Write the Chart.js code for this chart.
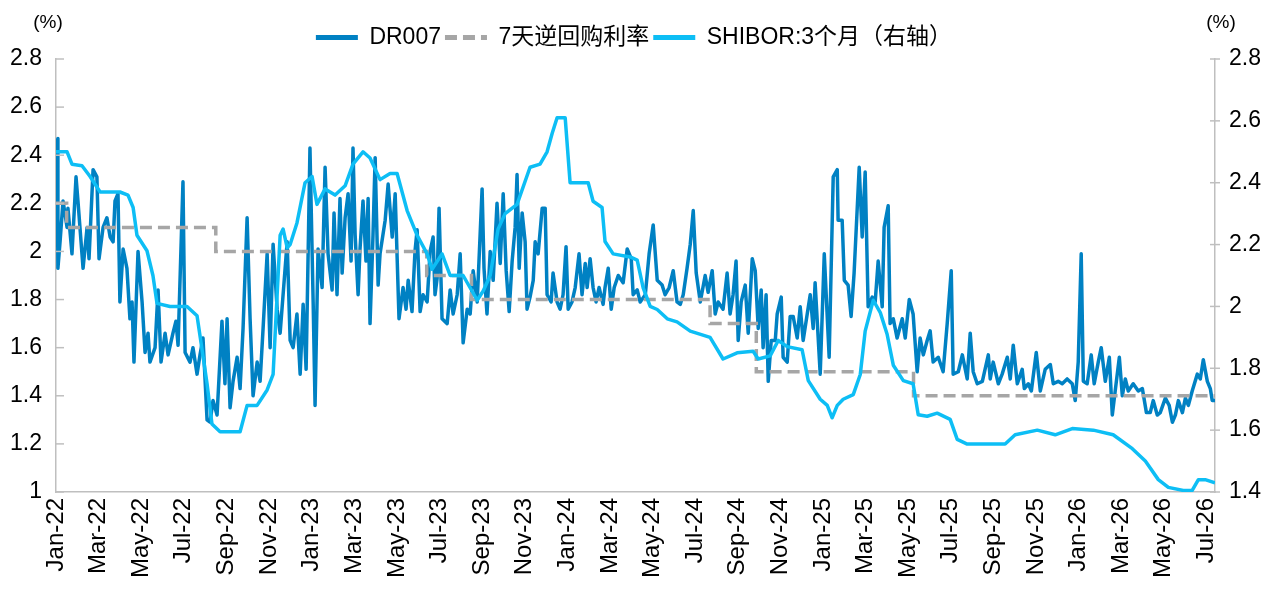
<!DOCTYPE html>
<html>
<head>
<meta charset="utf-8">
<script src="https://cdn.jsdelivr.net/npm/chart.js@4.4.1/dist/chart.umd.min.js"></script>
<style>
html,body{margin:0;padding:0;background:#fff;}
#wrap{width:1268px;height:591px;position:relative;}
</style>
</head>
<body>
<div id="wrap"><canvas id="c"></canvas></div>
<script>
// x values are months since Jan-22
const xTickLabels = ['Jan-22','Mar-22','May-22','Jul-22','Sep-22','Nov-22',
  'Jan-23','Mar-23','May-23','Jul-23','Sep-23','Nov-23',
  'Jan-24','Mar-24','May-24','Jul-24','Sep-24','Nov-24',
  'Jan-25','Mar-25','May-25','Jul-25','Sep-25','Nov-25',
  'Jan-26','Mar-26','May-26','Jul-26'];
const leftTicks = [1,1.2,1.4,1.6,1.8,2,2.2,2.4,2.6,2.8];
const rightTicks = [1.4,1.6,1.8,2,2.2,2.4,2.6,2.8];
const unitLabel = '(%)';

const dr007Month = [
0.05,0.09,0.19,0.33,0.52,0.56,0.75,0.94,1.03,1.27,
1.46,1.55,1.74,1.92,2.02,2.21,2.39,2.54,2.68,2.77,
2.91,3.00,3.15,3.33,3.47,3.57,3.66,3.85,4.04,4.18,
4.32,4.41,4.65,4.79,4.93,5.12,5.26,5.49,5.63,5.73,
5.96,6.06,6.29,6.43,6.62,6.76,6.90,7.09,7.23,7.37,
7.56,7.79,7.93,8.03,8.17,8.31,8.50,8.64,8.78,8.97,
9.11,9.25,9.44,9.58,9.72,9.91,10.05,10.19,10.38,10.52,
10.85,10.99,11.13,11.31,11.46,11.60,11.74,11.92,12.07,12.16,
12.30,12.49,12.63,12.77,12.96,13.05,13.19,13.33,13.43,13.57,
13.71,13.85,13.94,14.04,14.18,14.27,14.41,14.55,14.65,14.74,
14.88,14.98,15.12,15.21,15.45,15.59,15.78,15.92,16.10,16.29,
16.43,16.53,16.71,16.85,16.95,17.09,17.23,17.42,17.56,17.70,
17.79,17.89,17.98,18.12,18.36,18.50,18.64,18.83,18.97,19.11,
19.30,19.44,19.58,19.77,20.00,20.09,20.23,20.38,20.52,20.70,
20.85,20.99,21.13,21.27,21.41,21.55,21.64,21.74,21.88,22.02,
22.11,22.25,22.40,22.49,22.63,22.82,22.96,23.05,23.24,23.33,
23.52,23.66,23.80,23.94,24.04,24.22,24.37,24.55,24.69,24.84,
24.93,25.07,25.21,25.35,25.49,25.68,25.77,25.92,26.06,26.20,
26.39,26.62,26.81,27.00,27.09,27.28,27.42,27.66,27.84,28.03,
28.22,28.45,28.59,28.78,28.97,29.15,29.30,29.44,29.62,29.77,
29.91,30.05,30.24,30.47,30.61,30.80,30.94,31.08,31.31,31.50,
31.64,31.78,31.92,32.02,32.16,32.35,32.49,32.68,32.82,32.96,
33.10,33.19,33.33,33.43,33.57,33.76,33.85,34.04,34.13,34.32,
34.46,34.60,34.79,34.93,35.07,35.26,35.40,35.54,35.63,35.87,
36.06,36.29,36.48,36.67,36.71,36.90,37.00,37.18,37.32,37.46,
37.70,37.84,37.98,38.12,38.31,38.45,38.59,38.78,38.87,39.06,
39.15,39.30,39.48,39.72,39.86,40.05,40.23,40.42,40.56,40.71,
40.89,41.03,41.17,41.41,41.64,41.83,42.02,42.11,42.35,42.54,
42.77,42.91,43.05,43.24,43.48,43.76,43.85,43.99,44.23,44.41,
44.65,44.79,44.93,45.12,45.35,45.45,45.64,45.78,46.01,46.20,
46.43,46.67,46.81,47.04,47.23,47.46,47.70,47.84,47.98,48.12,
48.22,48.40,48.59,48.73,48.92,49.06,49.25,49.44,49.58,49.77,
49.91,50.05,50.19,50.33,50.56,50.80,50.99,51.18,51.36,51.50,
51.69,51.83,52.07,52.25,52.40,52.54,52.68,52.87,53.01,53.15,
53.33,53.57,53.71,53.85,54.04,54.18,54.27,54.40];
const dr007Rate = [
2.47,1.93,2.04,2.21,2.10,2.18,1.99,2.31,2.21,1.93,
2.10,1.97,2.34,2.31,1.97,2.10,2.14,2.06,2.04,2.21,
2.24,1.79,2.01,1.93,1.72,1.79,1.54,2.00,1.79,1.58,
1.66,1.54,1.60,1.84,1.54,1.66,1.57,1.66,1.71,1.61,
2.29,1.58,1.54,1.60,1.49,1.57,1.64,1.30,1.29,1.38,
1.32,1.71,1.45,1.72,1.35,1.46,1.56,1.43,1.68,2.14,
1.72,1.40,1.54,1.46,1.68,1.99,1.60,2.03,1.76,1.66,
2.04,1.63,1.60,1.74,1.49,1.78,1.51,2.43,1.79,1.36,
2.01,1.85,2.35,1.99,1.84,2.16,1.82,2.22,1.91,2.14,
2.24,1.96,2.43,2.07,1.82,2.01,2.21,1.96,2.22,1.70,
2.07,2.39,1.86,1.99,2.13,2.28,2.06,2.24,1.72,1.85,
1.76,1.88,1.75,2.00,2.09,1.75,1.82,1.79,2.00,2.06,
1.82,1.89,2.18,1.72,1.70,1.84,1.74,1.82,1.99,1.62,
1.76,1.74,1.92,1.79,2.26,1.93,1.74,2.00,1.88,2.20,
1.95,2.24,1.92,1.75,1.96,2.10,2.32,1.93,2.16,2.04,
1.76,1.81,1.88,2.04,1.99,2.18,2.18,1.82,1.79,1.91,
1.79,1.76,1.82,2.02,1.76,1.79,1.85,1.99,1.82,1.95,
1.85,1.97,1.85,1.79,1.85,1.78,1.85,1.93,1.76,1.85,
1.90,1.87,2.01,1.97,1.82,1.84,1.79,1.82,1.99,2.11,
1.88,1.86,1.82,1.85,1.92,1.79,1.78,1.82,1.93,2.03,
2.17,1.91,1.79,1.90,1.83,1.92,1.74,1.79,1.76,1.91,
1.74,1.82,1.96,1.63,1.79,1.86,1.66,1.97,1.92,1.68,
1.84,1.60,1.82,1.46,1.63,1.63,1.74,1.81,1.56,1.54,
1.73,1.73,1.64,1.77,1.63,1.74,1.82,1.68,1.87,1.49,
1.99,1.56,2.31,2.34,2.13,2.13,1.88,1.86,1.73,1.91,
2.35,2.06,2.33,1.77,1.81,1.79,1.96,1.77,2.10,2.19,
1.70,1.72,1.64,1.72,1.64,1.80,1.74,1.50,1.64,1.57,
1.63,1.67,1.54,1.56,1.50,1.70,1.92,1.49,1.50,1.57,
1.47,1.66,1.50,1.45,1.46,1.57,1.47,1.54,1.45,1.49,
1.56,1.47,1.61,1.45,1.51,1.43,1.45,1.42,1.58,1.42,
1.51,1.53,1.45,1.46,1.45,1.47,1.45,1.38,1.54,1.99,
1.46,1.45,1.57,1.45,1.54,1.60,1.46,1.56,1.32,1.46,
1.56,1.40,1.47,1.42,1.45,1.42,1.43,1.33,1.33,1.38,
1.32,1.33,1.39,1.36,1.29,1.32,1.38,1.33,1.39,1.36,
1.42,1.49,1.47,1.55,1.46,1.43,1.38,1.38];

const repoMonth = [0, 0.5, 7.5, 17.4, 19.5, 30.7, 32.87, 40.25, 54.4];
const repoRate  = [2.2, 2.1, 2.0, 1.9, 1.8, 1.7, 1.5, 1.4, 1.4];

const shiborMonth = [
0.00,0.52,0.75,1.22,1.60,2.07,2.54,3.00,3.38,3.62,
3.80,4.27,4.55,4.74,5.35,6.15,6.62,6.90,7.09,7.32,
7.70,8.64,8.97,9.44,9.91,10.19,10.52,10.66,10.85,10.99,
11.31,11.69,12.02,12.25,12.63,13.10,13.57,13.94,14.41,14.74,
15.21,15.68,16.01,16.48,16.95,17.42,17.65,18.12,18.50,19.11,
19.77,20.05,20.38,20.75,21.08,21.64,22.25,22.72,23.05,23.29,
23.52,23.90,24.13,24.98,25.21,25.63,25.77,26.15,26.95,27.28,
27.56,27.89,28.22,28.69,29.15,29.77,30.70,31.31,31.97,32.72,
32.96,33.52,33.90,34.32,35.02,35.31,35.87,36.20,36.43,36.67,
36.95,37.42,37.75,37.98,38.36,38.69,39.01,39.30,39.77,40.23,
40.47,40.89,41.36,41.97,42.30,42.77,43.62,44.55,45.02,46.06,
46.90,47.70,48.69,49.62,50.52,51.13,51.74,52.21,52.91,53.33,
53.62,53.94,54.40];
const shiborRate = [
2.50,2.50,2.46,2.455,2.42,2.37,2.37,2.37,2.36,2.32,
2.23,2.18,2.10,2.01,2.00,2.00,1.97,1.84,1.75,1.62,
1.595,1.595,1.68,1.68,1.73,1.78,2.23,2.25,2.19,2.20,
2.27,2.40,2.42,2.33,2.38,2.36,2.39,2.46,2.50,2.48,
2.41,2.43,2.43,2.31,2.23,2.17,2.12,2.17,2.10,2.10,
2.02,2.05,2.10,2.25,2.30,2.33,2.45,2.46,2.50,2.56,
2.61,2.61,2.40,2.40,2.34,2.32,2.21,2.17,2.16,2.15,
2.06,2.00,1.99,1.96,1.95,1.92,1.90,1.83,1.85,1.855,
1.83,1.84,1.89,1.87,1.86,1.76,1.70,1.68,1.64,1.68,
1.70,1.715,1.78,1.92,2.02,1.98,1.91,1.81,1.76,1.75,
1.65,1.645,1.655,1.635,1.57,1.555,1.555,1.555,1.585,1.60,
1.585,1.605,1.60,1.585,1.54,1.50,1.44,1.415,1.405,1.405,
1.44,1.44,1.43];

const FONT = "'Liberation Sans', Arial, 'Noto Sans CJK SC', sans-serif";
const AXIS_COLOR = '#BFBFBF';

const toPoints = (xs, ys) => xs.map((x, i) => ({x: x, y: ys[i]}));

const axisDecor = {
  id: 'axisDecor',
  afterDraw(chart) {
    const {ctx, chartArea, scales} = chart;
    ctx.save();
    ctx.strokeStyle = AXIS_COLOR;
    ctx.lineWidth = 1.5;
    scales.y.ticks.forEach(t => {
      const py = scales.y.getPixelForValue(t.value);
      ctx.beginPath(); ctx.moveTo(chartArea.left, py); ctx.lineTo(chartArea.left + 8, py); ctx.stroke();
    });
    scales.y1.ticks.forEach(t => {
      const py = scales.y1.getPixelForValue(t.value);
      ctx.beginPath(); ctx.moveTo(chartArea.right - 5, py); ctx.lineTo(chartArea.right + 5, py); ctx.stroke();
    });
    ctx.fillStyle = '#000';
    ctx.font = '19px ' + FONT;
    ctx.textAlign = 'center';
    ctx.textBaseline = 'middle';
    ctx.fillText(unitLabel, chartArea.left - 8, 23);
    ctx.fillText(unitLabel, chartArea.right + 6, 23);
    ctx.restore();
  }
};

new Chart(document.getElementById('c'), {
  type: 'line',
  data: {
    datasets: [
      {label: 'DR007', data: toPoints(dr007Month, dr007Rate), borderColor: '#0081C3', backgroundColor: '#0081C3',
       borderWidth: 3.5, pointRadius: 0, tension: 0, yAxisID: 'y', order: 3, borderJoinStyle: 'round'},
      {label: '7天逆回购利率', data: toPoints(repoMonth, repoRate), borderColor: '#A6A6A6', backgroundColor: '#A6A6A6',
       borderWidth: 3.5, borderDash: [12, 6], stepped: 'before', pointRadius: 0, yAxisID: 'y', order: 2},
      {label: 'SHIBOR:3个月（右轴）', data: toPoints(shiborMonth, shiborRate), borderColor: '#0DBEF5', backgroundColor: '#0DBEF5',
       borderWidth: 3.5, pointRadius: 0, tension: 0, yAxisID: 'y1', order: 1, borderJoinStyle: 'round'}
    ]
  },
  options: {
    responsive: true,
    maintainAspectRatio: false,
    animation: false,
    layout: {padding: {top: 22, left: 0, right: 0, bottom: 0}},
    plugins: {
      tooltip: {enabled: false},
      legend: {
        position: 'top',
        labels: {
          usePointStyle: true,
          pointStyle: 'line',
          pointStyleWidth: 42,
          padding: 4,
          color: '#000',
          font: {size: 23, family: FONT},
          generateLabels(chart) {
            return chart.data.datasets.map((ds, i) => ({
              text: ds.label,
              fillStyle: ds.borderColor,
              strokeStyle: ds.borderColor,
              lineWidth: 5,
              lineDash: ds.borderDash || [],
              lineCap: 'butt',
              pointStyle: 'line',
              hidden: false,
              fontColor: '#000',
              datasetIndex: i
            }));
          }
        }
      }
    },
    scales: {
      x: {
        type: 'linear',
        min: 0,
        max: 54.4,
        grid: {display: false, drawTicks: false},
        border: {display: true, color: AXIS_COLOR, width: 1.5},
        afterBuildTicks: s => { s.ticks = xTickLabels.map((_, i) => ({value: i * 2})); },
        afterFit: s => { s.height = 99; },
        ticks: {
          autoSkip: false, maxRotation: 90, minRotation: 90, padding: 6, color: '#000',
          font: {size: 24, family: FONT},
          callback: (v, i) => xTickLabels[i]
        }
      },
      y: {
        type: 'linear', position: 'left', min: 1, max: 2.8,
        grid: {display: false, drawTicks: false},
        border: {display: true, color: AXIS_COLOR, width: 1.5},
        afterBuildTicks: s => { s.ticks = leftTicks.map(v => ({value: v})); },
        afterFit: s => { s.width = 56; },
        ticks: {padding: 14, color: '#000', font: {size: 23, family: FONT}, callback: v => String(v)}
      },
      y1: {
        type: 'linear', position: 'right', min: 1.4, max: 2.8,
        grid: {display: false, drawTicks: false},
        border: {display: true, color: AXIS_COLOR, width: 1.5},
        afterBuildTicks: s => { s.ticks = rightTicks.map(v => ({value: v})); },
        afterFit: s => { s.width = 53; },
        ticks: {padding: 14, color: '#000', font: {size: 23, family: FONT}, callback: v => String(v)}
      }
    }
  },
  plugins: [axisDecor]
});
</script>
</body>
</html>
